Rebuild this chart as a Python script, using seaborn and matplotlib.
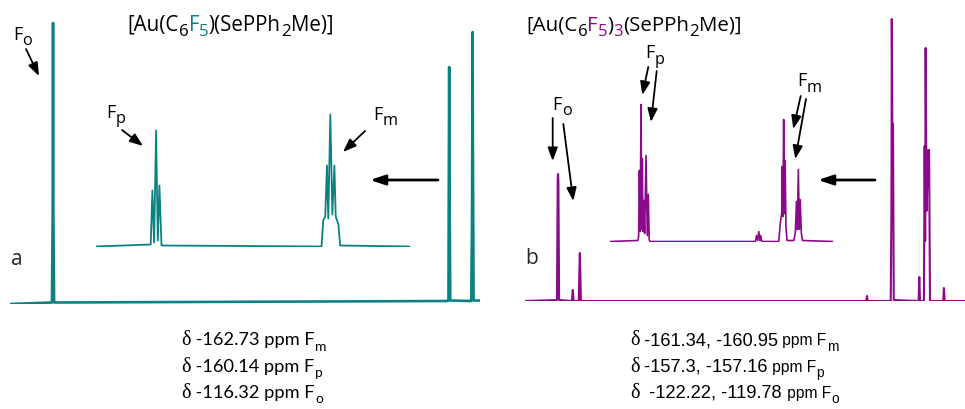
import matplotlib
matplotlib.use("Agg")
import matplotlib.pyplot as plt
import seaborn as sns
import pandas as pd
from matplotlib.font_manager import findfont, FontProperties, get_font

try:
    from matplotlib.ft2font import LoadFlags
    NOHINT = LoadFlags.NO_HINTING
except Exception:  # older matplotlib
    from matplotlib.ft2font import LOAD_NO_HINTING as NOHINT

# ---------------- data (ppm, intensity) ----------------
a_main_ppm = [-111.56, -116.20, -116.28, -116.32, -116.36, -116.44,
              -159.98, -160.06, -160.10, -160.14, -160.18, -160.26,
              -162.58, -162.66, -162.70, -162.73, -162.76, -162.84, -163.55]
a_main_int = [0, 1.5, 90, 281, 90, 1.5,
              3, 3.5, 128, 237, 128, 3.5,
              3, 75, 170, 272, 170, 3.5, 3.5]

a_inset_ppm = [-159.25, -160.06, -160.085, -160.11, -160.14, -160.165, -160.189, -160.22,
               -162.59, -162.615, -162.645, -162.67, -162.69, -162.72, -162.75,
               -162.78, -162.80, -162.84, -162.865, -163.90]
a_inset_int = [0, 2, 56, 4, 116, 6, 61, 1,
               0, 26, 30, 81, 28, 132, 32,
               81, 30, 22, 1, 0]

b_main_ppm = [-116.08, -119.66, -119.74, -119.78, -119.82, -119.90,
              -121.33, -121.43, -121.53,
              -122.10, -122.17, -122.22, -122.27, -122.34,
              -154.30, -154.38, -154.46,
              -157.04, -157.12, -157.16, -157.22, -157.30, -157.38,
              -160.16, -160.24, -160.32,
              -160.76, -160.84, -160.90, -160.95, -161.05, -161.24, -161.34, -161.44,
              -162.92, -163.00, -163.08, -165.36]
b_main_int = [0, 1, 120, 127, 120, 1,
              0, 11, 0,
              0, 30, 48, 30, 0,
              0, 5, 0,
              0, 90, 282, 177, 177, 1,
              0, 24, 0,
              0, 155, 60, 253, 90, 151, 151, 0,
              0, 13, 0, 0]

b_inset_ppm = [-156.34, -157.08, -157.10, -157.119, -157.14, -157.164, -157.18, -157.198,
               -157.215, -157.235, -157.26, -157.296, -157.33, -157.357, -157.38, -157.40,
               -160.20, -160.23, -160.26, -160.29, -160.32, -160.34, -160.37,
               -160.82, -160.86, -160.90, -160.91, -160.93, -160.95, -160.97, -160.99,
               -161.01, -161.04,
               -161.22, -161.26, -161.29, -161.31, -161.34, -161.365, -161.39, -161.42,
               -161.45, -162.26]
b_inset_int = [0, 1, 5, 71, 10, 137, 12, 83,
               10, 41, 8, 86, 6, 47, 2, 0,
               0, 6, 1, 10, 1, 6, 0,
               0, 18, 29, 75, 25, 122, 28, 81,
               15, 1,
               1, 9, 40, 12, 72, 12, 42, 8,
               1, 0]

a_title = [("[Au(C", "k", "n"), ("6", "k", "sub"), ("F", "teal", "n"), ("5", "teal", "sub"),
           (")(SePPh", "k", "n"), ("2", "k", "sub"), ("Me)]", "k", "n")]
b_title = [("[Au(C", "k", "n"), ("6", "k", "sub"), ("F", "purple", "n"), ("5", "purple", "sub"),
           (")", "k", "n"), ("3", "purple", "sub"),
           ("(SePPh", "k", "n"), ("2", "k", "sub"), ("Me)]", "k", "n")]

a_shifts = [("-162.73", "m"), ("-160.14", "p"), ("-116.32", "o")]
b_shifts = [("-161.34, -160.95", "m"), ("-157.3, -157.16", "p"), (" -122.22, -119.78", "o")]

# ---------------- figure ----------------
TEAL = "#0b8281"
PURPLE = "#8b0a8b"
W, H = 965, 410
sns.set_style("white")
plt.rcParams["font.family"] = ["Open Sans", "DejaVu Sans"]
fig = plt.figure(figsize=(W / 100, H / 100), dpi=100)


def px_axes(x0, x1, ybase, ytop, ppm_l, ppm_r):
    ax = fig.add_axes([x0 / W, 1 - ybase / H, (x1 - x0) / W, (ybase - ytop) / H])
    ax.set_xlim(ppm_l, ppm_r)
    ax.set_ylim(0, ybase - ytop)
    ax.axis("off")
    ax.patch.set_alpha(0)
    return ax


def spectrum(ax, ppm, inten, color, lw):
    df = pd.DataFrame({"ppm": ppm, "I": inten})
    sns.lineplot(data=df, x="ppm", y="I", ax=ax, color=color, lw=lw,
                 sort=False, estimator=None)
    ax.set_xlabel("")
    ax.set_ylabel("")


ax_a = px_axes(10, 480, 305, 15, -111.56, -163.55)
spectrum(ax_a, a_main_ppm, a_main_int, TEAL, 1.9)
ax_ai = px_axes(96, 410, 247.5, 100, -159.25, -163.90)
spectrum(ax_ai, a_inset_ppm, a_inset_int, TEAL, 1.3)
ax_b = px_axes(525, 965, 302, 15, -116.08, -165.36)
spectrum(ax_b, b_main_ppm, b_main_int, PURPLE, 1.5)
ax_bi = px_axes(610, 833, 242.5, 100, -156.34, -162.26)
spectrum(ax_bi, b_inset_ppm, b_inset_int, PURPLE, 1.2)

ov = fig.add_axes([0, 0, 1, 1])
ov.set_xlim(0, W)
ov.set_ylim(H, 0)
ov.axis("off")
ov.patch.set_alpha(0)
cmap = {"k": "black", "teal": TEAL, "purple": PURPLE}


def advance(s, family, fs):
    font = get_font(findfont(FontProperties(family=family)))
    font.set_size(fs, 100)
    tot = 0.0
    for ch in s:
        g = font.load_char(ord(ch), flags=NOHINT)
        tot += g.linearHoriAdvance / 65536.0
    return tot


def layout(pieces, size, family, sub_scale):
    out = []
    for piece in pieces:
        s, c, kind = piece[:3]
        fam = piece[3] if len(piece) > 3 else family
        scale = piece[4] if len(piece) > 4 else 1.0
        fs = size * (sub_scale if kind == "sub" else scale)
        out.append((s, c, kind, fam, fs))
    return out


def rich(x, y, pieces, size, family, sub_scale=0.75, sub_drop=0.30, width=None):
    if width is not None:
        tot = sum(advance(s, f, fs) for s, c, k, f, fs in layout(pieces, size, family, sub_scale))
        size = size * width / tot
    cx = x
    for s, c, kind, fam, fs in layout(pieces, size, family, sub_scale):
        yy = y + (size * 1.389 * sub_drop if kind == "sub" else 0)
        ov.text(cx, yy, s, fontsize=fs, color=cmap.get(c, c), family=fam,
                va="baseline", ha="left")
        cx += advance(s, fam, fs)
    return size


OS = ["Open Sans", "DejaVu Sans"]
rich(127.7, 30.7, a_title, 12.6, OS, 0.82, 0.27, width=206)
rich(526.7, 30.7, b_title, 12.6, OS, 0.82, 0.27, width=215)

lab = 13
rich(13, 39.5, [("F", "k", "n"), ("o", "k", "sub")], lab, OS, 0.9, 0.28)
rich(106, 117.5, [("F", "k", "n"), ("p", "k", "sub")], lab, OS, 0.9, 0.28)
rich(373, 120, [("F", "k", "n"), ("m", "k", "sub")], lab, OS, 0.9, 0.28)
rich(552.5, 110, [("F", "k", "n"), ("o", "k", "sub")], lab, OS, 0.9, 0.28)
rich(645.5, 58.5, [("F", "k", "n"), ("p", "k", "sub")], lab, OS, 0.9, 0.28)
rich(797, 86.5, [("F", "k", "n"), ("m", "k", "sub")], lab, OS, 0.9, 0.28)
ov.text(11.5, 265, "a", fontsize=15, family=OS, va="baseline")
ov.text(525, 264, "b", fontsize=15, family=OS, va="baseline")

arrows = [((26, 50), (39, 77)), ((122, 131), (143, 147)), ((365, 132), (343, 153)),
          ((552.7, 119), (552.7, 162)), ((563.3, 125), (573.3, 202)),
          ((648.3, 68), (642.3, 96)), ((656.7, 72), (651, 123)),
          ((800.7, 97), (793.3, 130)), ((806, 100), (795.3, 160))]
for (x0, y0), (x1, y1) in arrows:
    ov.annotate("", xy=(x1, y1), xytext=(x0, y0),
                arrowprops=dict(arrowstyle="-|>,head_length=0.8,head_width=0.3",
                                color="black", lw=1.3, shrinkA=0, shrinkB=0))
for (x0, y0), (x1, y1) in [((438, 181), (370, 181)), ((875, 181), (818, 181))]:
    ov.annotate("", xy=(x1, y1), xytext=(x0, y0),
                arrowprops=dict(arrowstyle="-|>,head_length=0.9,head_width=0.3",
                                color="black", lw=2.0, shrinkA=0, shrinkB=0))

SERIF = ["Liberation Serif", "DejaVu Serif"]
LATO = ["Lato", "DejaVu Sans"]
ARIAL = ["Liberation Sans", "DejaVu Sans"]
size_a = None
for i, (val, sub) in enumerate(a_shifts):
    y = 345.5 + i * 26.2
    pcs = [("\u03b4", "k", "n", SERIF, 1.1), (" " + val + " ppm F", "k", "n"), (sub, "k", "sub")]
    if size_a is None:
        size_a = rich(181.7, y, pcs, 10.7, LATO, 0.75, 0.30, width=145)
    else:
        rich(181.7, y, pcs, size_a, LATO, 0.75, 0.30)
size_b = None
for i, (val, sub) in enumerate(b_shifts):
    y = 345.5 + i * 26.2
    pcs = [("\u03b4", "k", "n", SERIF, 1.1), (" " + val, "k", "n"),
           (" ppm F", "k", "n", ARIAL, 0.85), (sub, "k", "sub")]
    if size_b is None:
        size_b = rich(630, y, pcs, 10.7, ARIAL, 0.75, 0.30, width=208)
    else:
        rich(630, y, pcs, size_b, ARIAL, 0.75, 0.30)

fig.savefig("out.png", dpi=100)
